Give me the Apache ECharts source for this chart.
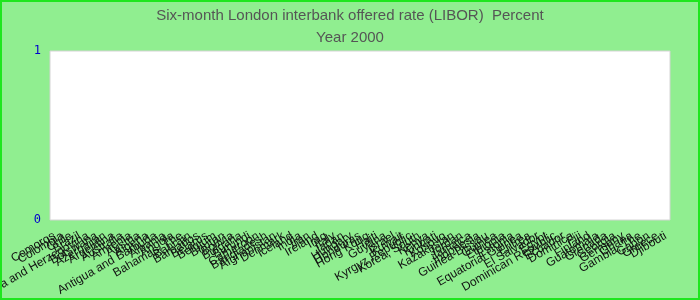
<!DOCTYPE html>
<html>
<head>
<meta charset="utf-8">
<script src="https://cdn.jsdelivr.net/npm/echarts@6/dist/echarts.min.js"></script>
<style>
  html, body { margin: 0; padding: 0; }
  #chart { width: 700px; height: 300px; box-sizing: border-box; border: 2px solid #1ee61e; background: #90ee90; }
</style>
</head>
<body>
<div id="chart"></div>
<script>
const titleText = "Six-month London interbank offered rate (LIBOR)  Percent";
const subtitleText = "Year 2000";
const countries = [
  "Comoros", "Colombia", "Chile", "Brazil", "Bosnia and Herzegovina", "Botswana", "Azerbaijan",
  "Argentina", "Australia", "Armenia", "Austria", "Algeria", "Antigua and Barbuda", "Albania",
  "Angola", "Bahamas, The", "Bahrain", "Barbados", "Belarus", "Belgium", "Bhutan", "Bolivia",
  "Bulgaria", "Burundi", "Cameroon", "Bangladesh", "Afghanistan", "Denmark",
  "Iceland", "India", "Iran", "Ireland", "Iraq", "Italy", "Japan", "Hungary", "Honduras",
  "Hong Kong", "Haiti", "Guyana", "Israel", "Kuwait", "Kyrgyz Republic", "Korea, South",
  "Kenya", "Kiribati", "Kosovo", "Kazakhstan", "Jordan", "Jamaica", "Indonesia",
  "Guinea-Bissau", "Guinea", "Ethiopia", "Estonia", "Equatorial Guinea", "Eritrea",
  "El Salvador", "Egypt", "Dominican Republic", "Ecuador", "Dominica", "Fiji", "Finland",
  "Guatemala", "Grenada", "Georgia", "Germany", "Ghana", "Gambia, The", "Gabon",
  "Greece", "Djibouti"
];
// No rate values are drawn in the reference: every country is missing (null).
const liborValues = [
  null, null, null, null, null, null, null, null, null, null,
  null, null, null, null, null, null, null, null, null, null,
  null, null, null, null, null, null, null, null, null, null,
  null, null, null, null, null, null, null, null, null, null,
  null, null, null, null, null, null, null, null, null, null,
  null, null, null, null, null, null, null, null, null, null,
  null, null, null, null, null, null, null, null, null, null,
  null, null, null
];
const yTicks = [0, 1];

const chart = echarts.init(document.getElementById('chart'), null, { renderer: 'canvas' });
chart.setOption({
  backgroundColor: 'transparent',
  animation: false,
  title: [
    { text: titleText, left: 'center', top: 1,
      textStyle: { fontFamily: 'Liberation Sans', fontSize: 15, fontWeight: 'normal', color: '#555555' } },
    { text: subtitleText, left: 'center', top: 23,
      textStyle: { fontFamily: 'Liberation Sans', fontSize: 15, fontWeight: 'normal', color: '#555555' } }
  ],
  grid: { left: 48, right: 28, top: 49, bottom: 78, containLabel: false, outerBoundsMode: 'none',
          show: true, backgroundColor: '#ffffff', borderColor: '#d4d4d4', borderWidth: 1 },
  xAxis: {
    type: 'category',
    data: countries,
    boundaryGap: true,
    axisLine: { show: false },
    axisTick: { show: false },
    splitLine: { show: false },
    axisLabel: { interval: 0, rotate: 30, fontFamily: 'Liberation Sans', fontSize: 12, color: '#111111', margin: 15, hideOverlap: false }
  },
  yAxis: {
    type: 'value',
    min: yTicks[0], max: yTicks[yTicks.length - 1], interval: 1,
    axisLine: { show: false },
    axisTick: { show: false },
    splitLine: { show: false },
    axisLabel: { fontFamily: 'DejaVu Sans Mono', fontSize: 12, color: '#0000cd', margin: 9 }
  },
  series: [{ type: 'bar', data: liborValues, itemStyle: { color: '#4472c4' } }]
});
</script>
</body>
</html>
